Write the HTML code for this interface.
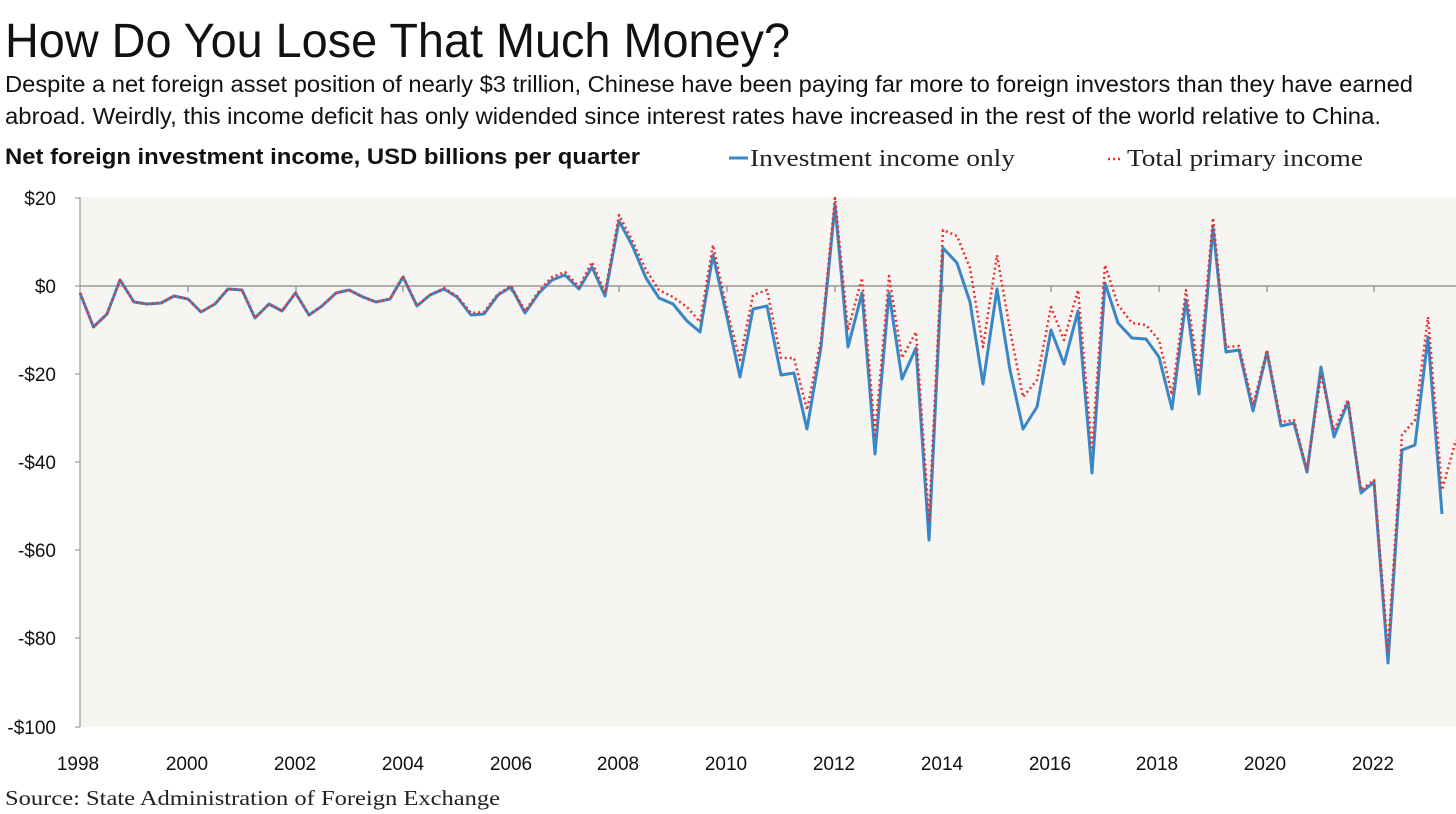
<!DOCTYPE html>
<html><head><meta charset="utf-8"><style>
html,body{margin:0;padding:0;background:#fff;}
svg{display:block;}
</style></head><body>
<svg width="1456" height="814" viewBox="0 0 1456 814" xmlns="http://www.w3.org/2000/svg">
<text x="5" y="57" font-family="Liberation Sans, sans-serif" font-size="48" fill="#111" textLength="785" lengthAdjust="spacingAndGlyphs">How Do You Lose That Much Money?</text>
<text x="5" y="92" font-family="Liberation Sans, sans-serif" font-size="23" fill="#111" textLength="1408" lengthAdjust="spacingAndGlyphs">Despite a net foreign asset position of nearly $3 trillion, Chinese have been paying far more to foreign investors than they have earned</text>
<text x="5" y="124" font-family="Liberation Sans, sans-serif" font-size="23" fill="#111" textLength="1376" lengthAdjust="spacingAndGlyphs">abroad. Weirdly, this income deficit has only widended since interest rates have increased in the rest of the world relative to China.</text>
<text x="5" y="164" font-family="Liberation Sans, sans-serif" font-size="22" font-weight="bold" fill="#111" textLength="635" lengthAdjust="spacingAndGlyphs">Net foreign investment income, USD billions per quarter</text>
<line x1="729" y1="158" x2="748" y2="158" stroke="#3a87c6" stroke-width="3"/>
<text x="750" y="166" font-family="Liberation Serif, serif" font-size="24" fill="#222" textLength="265" lengthAdjust="spacingAndGlyphs">Investment income only</text>
<line x1="1108" y1="159" x2="1123" y2="159" stroke="#e8312f" stroke-width="2.5" stroke-dasharray="2,3"/>
<text x="1127" y="166" font-family="Liberation Serif, serif" font-size="24" fill="#222" textLength="236" lengthAdjust="spacingAndGlyphs">Total primary income</text>
<rect x="80" y="197" width="1376" height="530" fill="#f6f5f1"/>
<line x1="80" y1="197" x2="80" y2="727" stroke="#888" stroke-width="1"/>
<g stroke="#888" stroke-width="1">
<line x1="75" y1="198" x2="80" y2="198"/><line x1="75" y1="286" x2="80" y2="286"/><line x1="75" y1="374" x2="80" y2="374"/><line x1="75" y1="462" x2="80" y2="462"/><line x1="75" y1="550" x2="80" y2="550"/><line x1="75" y1="638" x2="80" y2="638"/><line x1="75" y1="727" x2="80" y2="727"/>
</g>
<line x1="80" y1="286" x2="1456" y2="286" stroke="#888" stroke-width="1.2"/>
<g stroke="#888" stroke-width="1.2">
<line x1="188" y1="286" x2="188" y2="292"/><line x1="296" y1="286" x2="296" y2="292"/><line x1="403" y1="286" x2="403" y2="292"/><line x1="511" y1="286" x2="511" y2="292"/><line x1="619" y1="286" x2="619" y2="292"/><line x1="727" y1="286" x2="727" y2="292"/><line x1="835" y1="286" x2="835" y2="292"/><line x1="943" y1="286" x2="943" y2="292"/><line x1="1051" y1="286" x2="1051" y2="292"/><line x1="1159" y1="286" x2="1159" y2="292"/><line x1="1267" y1="286" x2="1267" y2="292"/><line x1="1374" y1="286" x2="1374" y2="292"/>
</g>
<g font-family="Liberation Sans, sans-serif" font-size="19" fill="#111" text-anchor="end">
<text x="56" y="205">$20</text><text x="56" y="293">$0</text><text x="56" y="381">-$20</text><text x="56" y="469">-$40</text><text x="56" y="557">-$60</text><text x="56" y="645">-$80</text><text x="56" y="734">-$100</text>
</g>
<g font-family="Liberation Sans, sans-serif" font-size="19" fill="#111" text-anchor="middle">
<text x="78" y="770">1998</text><text x="187" y="770">2000</text><text x="295" y="770">2002</text><text x="403" y="770">2004</text><text x="511" y="770">2006</text><text x="618" y="770">2008</text><text x="726" y="770">2010</text><text x="834" y="770">2012</text><text x="942" y="770">2014</text><text x="1050" y="770">2016</text><text x="1157" y="770">2018</text><text x="1265" y="770">2020</text><text x="1373" y="770">2022</text>
</g>
<text x="5" y="805" font-family="Liberation Serif, serif" font-size="21" fill="#222" textLength="495" lengthAdjust="spacingAndGlyphs">Source: State Administration of Foreign Exchange</text>
<polyline fill="none" stroke="#3a87c6" stroke-width="3" stroke-linejoin="round" points="80,293 93.5,327 107,314 120,280 134,302 147,304 161,303 174,296 188,299 201,312 215,304 228,289 242,290 255,318 269,304 282,311 295.5,293 309,315 322,306 336,293 349,290 363,297 376,302 390,299 403,277 417,306 430,295 444,289 457,297 471,315 484,314 498,295 511,287 525,313 539,293 552,280 565,275 579,289 592,267 605,296 619,221 632,245 646,278 659,298 673,304 687,321 700,332 713,255 727,317 740,377 753,309 767,306 781,375 794,373 807,429 821,347 835,205 848,347 862,293 875,454 889,293 902,379 916,348 929,540 943,248 957,263 970,302 983,384 997,289 1010,370 1023,429 1037,407 1051,330 1064,364 1078,311 1092,473 1105,283 1118,323 1132,338 1146,339 1159,357 1172,409 1186,300 1199,394 1213,227 1226,352 1239,350 1253,411 1267,352 1281,426 1294,423 1307,472 1321,367 1334,437 1348,402 1361,493 1374,482 1388,663 1402,450 1415,445 1428,337 1442,514"/>
<polyline fill="none" stroke="#e8312f" stroke-width="2.5" stroke-dasharray="2,3" stroke-linejoin="round" points="80,293 93.5,327 107,314 120,280 134,302 147,304 161,303 174,296 188,299 201,312 215,304 228,289 242,290 255,318 269,304 282,311 295.5,293 309,315 322,306 336,293 349,290 363,297 376,302 390,299 403,276 417,306 430,295 444,288 457,296 471,313 484,312 498,294 511,286 525,311 539,291 552,277 565,272 579,287 592,262 605,293 619,215 632,240 646,270 659,290 673,297 687,307 700,322 713,245 727,310 740,360 753,295 767,290 781,358 794,358 807,410 821,340 835,198 848,330 862,278 875,435 889,276 902,358 916,332 929,520 943,230 957,236 970,268 983,347 997,255 1010,330 1023,397 1037,380 1051,307 1064,340 1078,290 1092,450 1105,265 1118,305 1132,323 1146,325 1159,340 1172,395 1186,290 1199,375 1213,218 1226,347 1239,346 1253,405 1267,350 1281,422 1294,420 1307,470 1321,375 1334,430 1348,400 1361,490 1374,480 1388,650 1402,435 1415,420 1428,317 1442,490 1456,440"/>
</svg>
</body></html>
